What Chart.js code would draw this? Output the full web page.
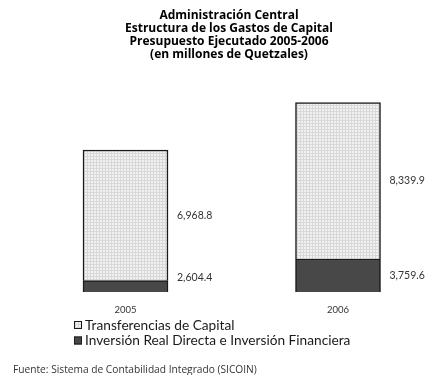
<!DOCTYPE html>
<html>
<head>
<meta charset="utf-8">
<script src="https://cdn.jsdelivr.net/npm/chart.js@4.4.1/dist/chart.umd.min.js"></script>
<style>
  html, body { margin: 0; padding: 0; background: #ffffff; }
  #wrap { width: 430px; height: 375px; position: relative; }
</style>
</head>
<body>
<div id="wrap"><canvas id="c" width="430" height="375"></canvas></div>
<script>
// ---- data ----
const categories = ['2005', '2006'];
const transferencias = [6968.8, 8339.9];
const inversion = [2604.4, 3759.6];
const seriesNames = ['Transferencias de Capital', 'Inversión Real Directa e Inversión Financiera'];
const titleLines = [
  'Administración Central',
  'Estructura de los Gastos de Capital',
  'Presupuesto Ejecutado 2005-2006',
  '(en millones de Quetzales)'
];
const sourceNote = 'Fuente: Sistema de Contabilidad Integrado (SICOIN)';
const axisMin = 2000;
const axisMax = 14000;

// ---- styles ----
const FONT = 'Lato, "Open Sans", "DejaVu Sans", sans-serif';
const FONT2 = '"Open Sans", Lato, "DejaVu Sans", sans-serif';
const darkFill = '#484848';
const outline = '#1a1a1a';

function makePattern() {
  const pc = document.createElement('canvas');
  pc.width = 3; pc.height = 3;
  const p = pc.getContext('2d');
  p.fillStyle = '#f1f1f1';
  p.fillRect(0, 0, 3, 3);
  p.fillStyle = '#d8d8d8';
  p.fillRect(0, 0, 3, 1);
  p.fillRect(0, 0, 1, 3);
  return document.getElementById('c').getContext('2d').createPattern(pc, 'repeat');
}
const lightFill = makePattern();

const fmt = v => v.toLocaleString('en-US', { minimumFractionDigits: 1, maximumFractionDigits: 1 });

const decorPlugin = {
  id: 'decor',
  afterDatasetsDraw(chart) {
    const ctx = chart.ctx;
    const area = chart.chartArea;
    ctx.save();
    // value labels
    ctx.font = '10.5px ' + FONT;
    ctx.fillStyle = '#333333';
    ctx.textAlign = 'left';
    ctx.textBaseline = 'middle';
    chart.data.datasets.forEach((ds, di) => {
      const meta = chart.getDatasetMeta(di);
      meta.data.forEach((el, i) => {
        const p = el.getProps(['x', 'y', 'base', 'width'], true);
        let y = (p.y + p.base) / 2;
        y = Math.min(y, area.bottom - 14);
        ctx.fillText(fmt(ds.data[i]), p.x + p.width / 2 + 9, y);
      });
    });
    // title
    ctx.fillStyle = '#000000';
    ctx.font = 'bold 12px ' + FONT2;
    ctx.textAlign = 'center';
    titleLines.forEach((t, i) => ctx.fillText(t, 229, 16 + i * 13));
    // legend
    const legendItems = [
      { label: seriesNames[0], fill: lightFill },
      { label: seriesNames[1], fill: darkFill }
    ];
    ctx.font = '13.7px ' + FONT;
    ctx.textAlign = 'left';
    legendItems.forEach((it, i) => {
      const cy = 325 + i * 15.5;
      ctx.fillStyle = it.fill;
      ctx.fillRect(74, cy - 4, 8, 8);
      ctx.strokeStyle = outline;
      ctx.lineWidth = 1;
      ctx.strokeRect(74.5, cy - 3.5, 7, 7);
      ctx.fillStyle = '#1a1a1a';
      ctx.fillText(it.label, 85, cy + 0.5);
    });
    // source note
    ctx.font = '10.2px ' + FONT2;
    ctx.fillStyle = '#333333';
    ctx.fillText(sourceNote, 13, 370);
    ctx.restore();
  }
};

new Chart(document.getElementById('c'), {
  type: 'bar',
  data: {
    labels: categories,
    datasets: [
      {
        label: seriesNames[1],
        data: inversion,
        base: axisMin,
        backgroundColor: darkFill,
        borderColor: outline,
        borderWidth: 1.5,
        barThickness: 85,
        clip: false
      },
      {
        label: seriesNames[0],
        data: transferencias,
        backgroundColor: lightFill,
        borderColor: outline,
        borderWidth: 1.5,
        barThickness: 85,
        clip: false
      }
    ]
  },
  options: {
    responsive: false,
    animation: false,
    devicePixelRatio: 1,
    layout: { padding: { top: 67, bottom: 53, left: 125.5, right: 92 } },
    plugins: {
      legend: { display: false },
      title: { display: false },
      tooltip: { enabled: false }
    },
    scales: {
      x: {
        type: 'category',
        stacked: true,
        offset: false,
        grid: { display: false, drawTicks: false },
        border: { display: false },
        ticks: { font: { family: FONT, size: 9.5 }, color: '#333333', padding: 12, maxRotation: 0 },
        afterFit: s => { s.height = 30; }
      },
      y: {
        stacked: true,
        display: false,
        min: axisMin,
        max: axisMax
      }
    }
  },
  plugins: [decorPlugin]
});
</script>
</body>
</html>
